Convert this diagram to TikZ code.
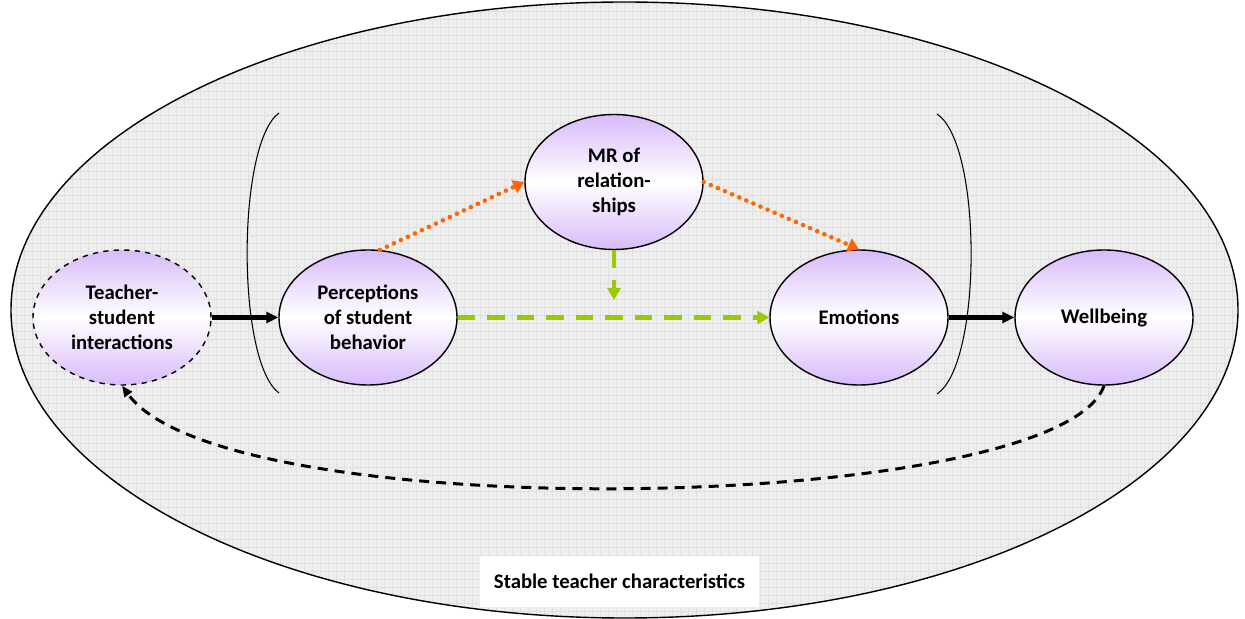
\documentclass[tikz,border=0pt]{standalone}
\usepackage{fontspec}
\setmainfont{Carlito}
\usetikzlibrary{shapes,arrows.meta,positioning}
\definecolor{nodepurple}{RGB}{216,186,250}
\definecolor{pathorange}{RGB}{255,102,0}
\definecolor{pathgreen}{RGB}{153,204,0}
\definecolor{bgfill}{RGB}{238,238,238}
\definecolor{bgline}{RGB}{224,224,224}
\tikzset{%
    model_var/.style={%
        ellipse, draw=black, line width=0.8pt, minimum width=3.56cm, minimum height=2.7cm,
        inner sep=0pt, align=center, top color=nodepurple, bottom color=nodepurple,
        middle color=white, font=\fontsize{11.8}{14.3}\selectfont\bfseries
    },
    model_latent/.style={%
        model_var, dashed
    },
    path_main/.style={%
        -{Triangle[length=0.24cm,width=0.22cm]}, line width=2.3pt
    },
    path_mediated/.style={%
        -{Triangle[length=0.24cm,width=0.26cm]}, pathgreen, line width=2.3pt,
        dash pattern=on 10pt off 6.8pt
    },
    path_mr/.style={%
        -{Triangle[length=0.22cm,width=0.27cm]}, pathorange, line width=2.6pt,
        dash pattern=on 0pt off 4.4pt, line cap=round
    },
    path_feedback/.style={%
        -{Triangle[length=0.22cm,width=0.18cm]}, line width=1.7pt,
        dash pattern=on 5.7pt off 4pt
    },
    bracket/.style={%
        line width=0.6pt
    },
    caption_box/.style={%
        fill=white, minimum width=5.58cm, minimum height=1.02cm,
        font=\fontsize{11.8}{14.3}\selectfont\bfseries
    },
}

\begin{document}
\begin{tikzpicture}
    \useasboundingbox (0,0) rectangle (24.9,12.38);

    % stable characteristics
    \begin{scope}
      \clip (12.49,6.18) ellipse [x radius=12.27, y radius=6.16];
      \fill[bgfill] (0,0) rectangle (24.9,12.38);
      \draw[bgline, line width=0.3pt, step=0.16] (0,0) grid (24.9,12.38);
    \end{scope}
    \draw[line width=0.8pt] (12.49,6.18) ellipse [x radius=12.27, y radius=6.16];
    \node[caption_box] (STC) at (12.39,0.75) {Stable teacher characteristics};

    % brackets
    \draw[bracket] (5.58,10.12) .. controls (4.73,9.5) and (4.73,5.14) .. (5.58,4.52);
    \draw[bracket] (18.74,10.1) .. controls (19.65,9.5) and (19.65,5.1) .. (18.74,4.5);

    \node[model_latent] (TSI) at (2.44,6.03) {Teacher-\\student\\interactions};
    \node[model_var] (PSB) at (7.36,6.03) {Perceptions\\of student\\behavior};
    \node[model_var] (MR) at (12.28,8.74) {MR of\\relation-\\ships};
    \node[model_var] (EMO) at (17.18,6.03) {Emotions};
    \node[model_var] (WB) at (22.08,6.03) {Wellbeing};
    \coordinate (MRT) at (12.28,6.38);

    \draw [path_main] (TSI) -- (PSB);
    \draw [path_main] (EMO) -- (WB);
    \draw [path_mediated] (PSB) -- (EMO);
    \draw [path_mediated] (MR) -- (MRT);
    \draw [path_mr] (PSB.80) -- (MR.west);
    \draw [path_mr] (MR.east) -- (EMO.north);
    \draw [path_feedback] (WB.south) .. controls (21.2,2.1) and (4.5,1.8) .. (TSI.south);
\end{tikzpicture}
\end{document}
